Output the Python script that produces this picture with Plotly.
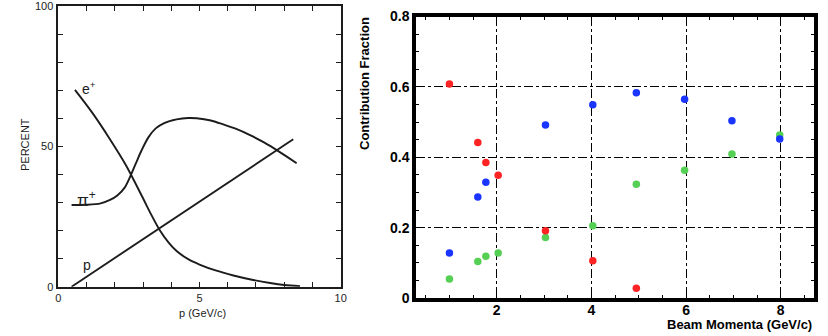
import plotly.graph_objects as go

# ---------------- Left panel data (scanned figure) ----------------
e_x = [0.59, 1.2, 1.8, 2.4, 3.0, 3.3, 3.6, 3.9, 4.2, 4.6, 5.0, 5.6, 6.2, 6.9, 7.5, 8.0, 8.56]
e_y = [70.1, 62.0, 53.0, 43.2, 31.5, 25.5, 20.0, 15.8, 12.6, 9.8, 7.9, 5.7, 4.0, 2.4, 1.3, 0.6, 0.2]

pi_x = [0.47, 1.0, 1.5, 1.83, 2.1, 2.35, 2.57, 2.75, 2.95, 3.19, 3.45, 3.75, 4.19, 4.6, 4.90,
        5.4, 5.84, 6.3, 6.79, 7.3, 7.79, 8.44]
pi_y = [29.1, 29.2, 29.7, 30.9, 32.6, 35.3, 39.8, 44.0, 48.6, 53.2, 56.4, 58.3, 59.6, 60.1, 60.0,
        59.2, 57.8, 56.2, 54.0, 51.3, 48.3, 44.0]

p_x = [0.47, 8.32]
p_y = [0.0, 52.5]

left_xticks = [0, 1, 2, 3, 4, 5, 6, 7, 8, 9, 10]
left_xticktext = ["0", "", "", "", "", "5", "", "", "", "", "10"]
left_yticks = [0, 10, 20, 30, 40, 50, 60, 70, 80, 90, 100]
left_yticktext = ["0", "", "", "", "", "50", "", "", "", "", "100"]

# ---------------- Right panel data ----------------
red_x = [1.0, 1.6, 1.77, 2.03, 3.03, 4.03, 4.95]
red_y = [0.608, 0.442, 0.385, 0.349, 0.191, 0.106, 0.028]

blue_x = [1.0, 1.6, 1.77, 3.03, 4.03, 4.95, 5.97, 6.97, 7.98]
blue_y = [0.128, 0.287, 0.329, 0.492, 0.549, 0.583, 0.565, 0.504, 0.452]

green_x = [1.0, 1.6, 1.77, 2.03, 3.03, 4.03, 4.95, 5.97, 6.97, 7.98]
green_y = [0.054, 0.104, 0.119, 0.128, 0.172, 0.205, 0.323, 0.363, 0.409, 0.463]

right_xticks = [2, 4, 6, 8]
right_yticks = [0, 0.2, 0.4, 0.6, 0.8]
right_yticktext = ["0", "0.2", "0.4", "0.6", "0.8"]

W, H = 828, 336
def px(x):
    return x / W
def py(y):
    return 1 - y / H

ink = "#1c1c1c"
fig = go.Figure()

# left curves
for xs, ys in [(e_x, e_y), (pi_x, pi_y), (p_x, p_y)]:
    fig.add_trace(go.Scatter(x=xs, y=ys, mode="lines",
                             line=dict(color=ink, width=1.9, shape="spline", smoothing=0.9),
                             xaxis="x", yaxis="y", showlegend=False, hoverinfo="skip"))

# right scatter
for xs, ys, c in [(green_x, green_y, "#55d055"), (blue_x, blue_y, "#1a35ff"), (red_x, red_y, "#ff2424")]:
    fig.add_trace(go.Scatter(x=xs, y=ys, mode="markers",
                             marker=dict(color=c, size=7.5, line=dict(width=0)),
                             xaxis="x2", yaxis="y2", showlegend=False))

left_font = dict(family="Liberation Sans, Arial", size=11, color=ink)
right_font = dict(family="Liberation Sans, Arial", size=14, color="black", weight="bold")

fig.update_layout(
    width=W, height=H,
    margin=dict(l=0, r=0, t=0, b=0, autoexpand=False),
    paper_bgcolor="white", plot_bgcolor="white",
    xaxis=dict(domain=[px(58.3), px(340.7)], range=[0, 10], anchor="y", automargin=False,
               tickvals=left_xticks, ticktext=left_xticktext,
               ticks="inside", ticklen=5, tickwidth=1.3, tickcolor=ink,
               showline=True, linecolor=ink, linewidth=1.5, mirror="ticks",
               showgrid=False, zeroline=False, tickfont=left_font, ticklabeloverflow="allow"),
    yaxis=dict(domain=[py(286.7), py(6)], range=[0, 100], anchor="x", automargin=False,
               tickvals=left_yticks, ticktext=left_yticktext,
               ticks="inside", ticklen=5, tickwidth=1.3, tickcolor=ink,
               showline=True, linecolor=ink, linewidth=1.5, mirror="ticks",
               showgrid=False, zeroline=False, tickfont=left_font, ticklabelstandoff=1,
               ticklabeloverflow="allow"),
    xaxis2=dict(domain=[px(416.3), px(813.8)], range=[0.3, 8.7], anchor="y2", automargin=False,
                tickvals=right_xticks, ticks="inside", ticklen=6, tickwidth=1, tickcolor="black",
                minor=dict(dtick=0.5, tick0=0, ticks="inside", ticklen=3, tickcolor="black", showgrid=False),
                showline=True, linecolor="black", linewidth=4, mirror="ticks",
                showgrid=True, gridcolor="black", gridwidth=1, griddash="dashdot",
                zeroline=False, tickfont=right_font, ticklabelstandoff=-4, ticklabeloverflow="allow"),
    yaxis2=dict(domain=[py(298.0), py(16.5)], range=[0, 0.8], anchor="x2", automargin=False,
                tickvals=right_yticks, ticktext=right_yticktext,
                ticks="inside", ticklen=6, tickwidth=1, tickcolor="black",
                minor=dict(dtick=0.05, tick0=0, ticks="inside", ticklen=3, tickcolor="black", showgrid=False),
                showline=True, linecolor="black", linewidth=4, mirror="ticks",
                showgrid=True, gridcolor="black", gridwidth=1, griddash="dashdot",
                zeroline=False, tickfont=right_font, ticklabeloverflow="allow"),
)

ann = [
    dict(text="e<sup>+</sup>", x=px(80), y=py(88), xanchor="left", yanchor="middle",
         font=dict(family="Liberation Sans, Arial", size=14, color=ink)),
    dict(text="π<sup>+</sup>", x=px(75), y=py(199), xanchor="left", yanchor="middle",
         font=dict(family="Liberation Sans, Arial", size=17, color=ink)),
    dict(text="p", x=px(81), y=py(265), xanchor="left", yanchor="middle",
         font=dict(family="Liberation Sans, Arial", size=14, color=ink)),
    dict(text="PERCENT", x=px(25), y=py(145), xanchor="center", yanchor="middle", textangle=-90,
         font=dict(family="Liberation Sans, Arial", size=11, color=ink)),
    dict(text="p (GeV/c)", x=px(202), y=py(313), xanchor="center", yanchor="middle",
         font=dict(family="Liberation Sans, Arial", size=11, color=ink)),
    dict(text="<b>Contribution Fraction</b>", x=px(364.5), y=py(83.5), xanchor="center", yanchor="middle",
         textangle=-90, font=dict(family="Liberation Sans, Arial", size=13, color="black")),
    dict(text="<b>Beam Momenta (GeV/c)</b>", x=px(814), y=py(324), xanchor="right", yanchor="middle",
         font=dict(family="Liberation Sans, Arial", size=13, color="black")),
]
for a in ann:
    a.update(xref="paper", yref="paper", showarrow=False)
fig.update_layout(annotations=ann)

# remove the default 8px page margin so the 828x336 figure fills the window exactly
fig.write_html("out.html", config={"displayModeBar": False},
               post_script="document.body.style.margin='0px';")
